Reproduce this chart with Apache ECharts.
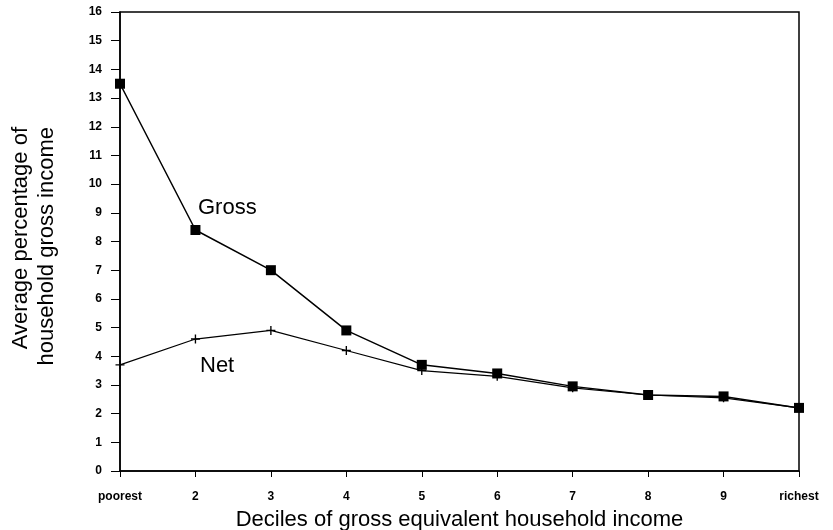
<!DOCTYPE html>
<html>
<head>
<meta charset="utf-8">
<script src="https://cdn.jsdelivr.net/npm/echarts@6/dist/echarts.min.js"></script>
<style>
  html, body { margin: 0; padding: 0; background: #fff; }
  #chart { width: 833px; height: 530px; }
</style>
</head>
<body>
<div id="chart"></div>
<script>
const deciles = ['poorest', '2', '3', '4', '5', '6', '7', '8', '9', 'richest'];
const gross = [13.5, 8.4, 7.0, 4.9, 3.7, 3.4, 2.95, 2.65, 2.6, 2.2];
const net = [3.7, 4.6, 4.9, 4.2, 3.5, 3.3, 2.9, 2.65, 2.55, 2.2];
const yTicks = [0, 16, 1]; // min, max, interval

const font = '"Liberation Sans", Arial, sans-serif';
const plusPath = 'path://M3.4,0 H4.6 V3.4 H8 V4.6 H4.6 V8 H3.4 V4.6 H0 V3.4 H3.4 Z';

const chart = echarts.init(document.getElementById('chart'));

chart.setOption({
  animation: false,
  grid: {
    left: 120,
    right: 34,
    top: 12,
    bottom: 59,
    outerBoundsMode: 'none',
    containLabel: false,
    show: true,
    borderColor: '#000',
    borderWidth: 1.5
  },
  xAxis: {
    type: 'category',
    data: deciles,
    boundaryGap: false,
    axisLine: { lineStyle: { color: '#000', width: 1.5 } },
    axisTick: { alignWithLabel: true, length: 6, lineStyle: { color: '#000' } },
    axisLabel: { color: '#000', fontFamily: font, fontWeight: 'bold', fontSize: 12, margin: 20 },
    splitLine: { show: false },
    name: 'Deciles of gross equivalent household income',
    nameLocation: 'middle',
    nameGap: 38,
    nameTextStyle: { color: '#000', fontFamily: font, fontSize: 22, verticalAlign: 'top' }
  },
  yAxis: {
    type: 'value',
    min: yTicks[0],
    max: yTicks[1],
    interval: yTicks[2],
    axisLine: { show: true, lineStyle: { color: '#000', width: 1.5 } },
    axisTick: { show: true, length: 9, lineStyle: { color: '#000' } },
    axisLabel: { color: '#000', fontFamily: font, fontWeight: 'bold', fontSize: 12, margin: 18 },
    splitLine: { show: false }
  },
  graphic: [
    {
      type: 'text',
      x: 34,
      y: 127,
      rotation: Math.PI / 2,
      style: {
        text: 'Average percentage of\nhousehold gross income',
        font: '22px ' + font,
        fill: '#000',
        align: 'right',
        verticalAlign: 'middle',
        lineHeight: 26
      }
    },
    {
      type: 'text', x: 198, y: 208,
      style: { text: 'Gross', font: '22px ' + font, fill: '#000', verticalAlign: 'middle' }
    },
    {
      type: 'text', x: 200, y: 366,
      style: { text: 'Net', font: '22px ' + font, fill: '#000', verticalAlign: 'middle' }
    }
  ],
  series: [
    {
      name: 'Gross',
      type: 'line',
      data: gross,
      symbol: 'rect',
      symbolSize: 10,
      itemStyle: { color: '#000' },
      lineStyle: { color: '#000', width: 1.5 }
    },
    {
      name: 'Net',
      type: 'line',
      data: net,
      symbol: plusPath,
      symbolSize: 9,
      itemStyle: { color: '#000' },
      lineStyle: { color: '#000', width: 1.2 }
    }
  ]
});
</script>
</body>
</html>
